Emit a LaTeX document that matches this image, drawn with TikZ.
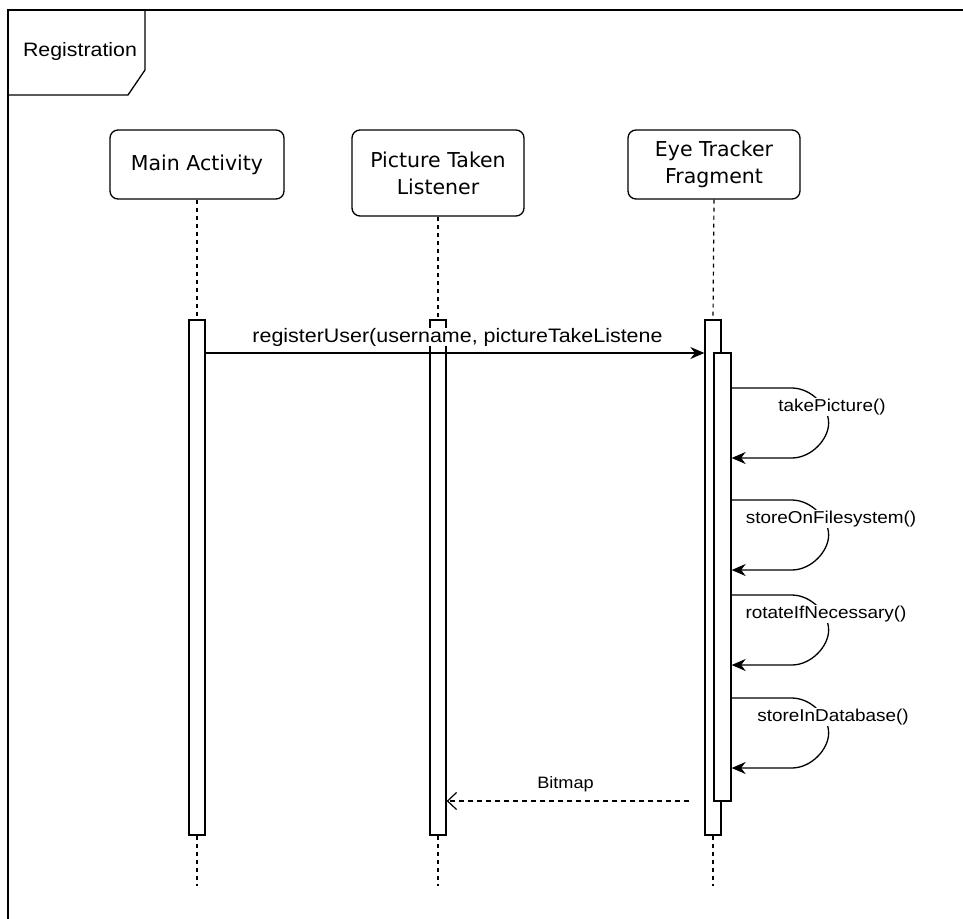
\documentclass[tikz,border=0pt]{standalone}
\usepackage{fontspec}
\setmainfont{Liberation Sans}
\newfontfamily\lblfont[FakeStretch=1.1]{Liberation Sans}
\newfontfamily\headfont{DejaVu Sans}
\usetikzlibrary{arrows.meta}

\tikzset{
  frameline/.style={line width=1.3pt},
  headbox/.style={draw, line width=1.3pt, rounded corners=8pt, fill=white, align=center,
    inner sep=0pt, font=\headfont\fontsize{20.5}{27}\selectfont},
  actbar/.style={draw, line width=1.3pt, fill=white, inner sep=0pt, minimum width=16pt},
  lifeline/.style={line width=1.2pt, dash pattern=on 4pt off 4pt},
  callmsg/.style={line width=1.3pt, -{Stealth[length=14pt,width=12pt]}},
  replymsg/.style={line width=1.2pt, dash pattern=on 5pt off 4pt,
    -{Straight Barb[length=9pt,width=17pt,line width=1.2pt]}},
  msglabel/.style={fill=white, inner sep=1pt, font=\lblfont\fontsize{17.2}{20}\selectfont},
}

\begin{document}
\begin{tikzpicture}[x=1pt,y=-1pt]
\fill[white] (0,0) rectangle (963,918);
\clip (0,0) rectangle (963,918);

% enclosing frame and its name tab
\draw[frameline] (8,930) -- (8,10) -- (975,10);
\draw[frameline] (8,95) -- (128,95) -- (145,70) -- (145,10);
\node[font=\lblfont\fontsize{19.4}{22}\selectfont] (title) at (80,51) {Registration};

% participants
\node[headbox, minimum width=174pt, minimum height=69pt] (mainhead) at (197,164.5) {Main Activity};
\node[headbox, minimum width=172pt, minimum height=86pt] (listhead) at (438,173) {Picture Taken\\Listener};
\node[headbox, minimum width=172pt, minimum height=69pt] (eyehead) at (714,164.5) {Eye Tracker\\Fragment};

% lifeline ends
\coordinate (mainend) at (197,886);
\coordinate (listend) at (438,886);
\coordinate (eyeend) at (713,886);

% activation bars
\node[actbar, minimum height=515pt] (mainbar) at (197,577.5) {};
\node[actbar, minimum height=515pt] (listbar) at (438,577.5) {};
\node[actbar, minimum height=515pt] (eyebar) at (713,577.5) {};
\node[actbar, minimum width=17pt, minimum height=448pt] (eyeinner) at (722.5,577) {};

% dashed lifelines
\draw[lifeline] (mainhead.south) -- (mainbar.north);
\draw[lifeline] (mainbar.south) -- (mainend);
\draw[lifeline] (listhead.south) -- (listbar.north);
\draw[lifeline] (listbar.south) -- (listend);
\draw[lifeline] (eyehead.south) -- (eyebar.north);
\draw[lifeline] (eyebar.south) -- (eyeend);

% registerUser call
\coordinate (regfrom) at (mainbar.east |- 0,353);
\coordinate (regto) at (eyebar.west |- 0,353);
\draw[callmsg] (regfrom) -- (regto);
\node[msglabel, font=\lblfont\fontsize{19.5}{22}\selectfont, inner sep=0pt] (reglabel) at (457.5,337)
  {registerUser(username, pictureTakeListene};

% self calls on the fragment
\foreach \name/\ytop/\txt/\lx in {take/388/takePicture()/832,
                                  store/500/storeOnFilesystem()/831,
                                  rotate/595/rotateIfNecessary()/826,
                                  db/698/storeInDatabase()/833}{
  \coordinate (\name from) at (eyeinner.east |- 0,\ytop);
  \coordinate (\name to) at (eyeinner.east |- 0,\ytop+70);
  \draw[callmsg] (\name from) -- ++(60,0)
    .. controls +(20,0) and +(0,-16) .. ++(37,35)
    .. controls +(0,16) and +(20,0) .. ++(-37,35) -- (\name to);
  \node[msglabel] (\name label) at (\lx,\ytop+19) {\txt};
}

% Bitmap reply
\coordinate (bitfrom) at (689,801);
\coordinate (bitto) at (listbar.east |- 0,801);
\draw[replymsg] (bitfrom) -- (bitto);
\node[font=\lblfont\fontsize{16.5}{19}\selectfont] (bitlabel) at (565.5,784) {Bitmap};
\end{tikzpicture}
\end{document}
